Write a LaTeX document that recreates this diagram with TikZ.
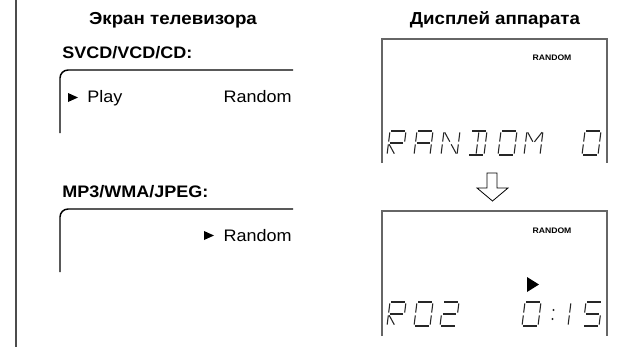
\documentclass[tikz,border=0pt]{standalone}
\usepackage{fontspec}
\setmainfont{Liberation Sans}[FakeStretch=1.08]
\usetikzlibrary{positioning}

% segments of one LCD cell, as u1/v1/u2/v2 (v runs downwards)
\newcommand{\glyphR}{0/0/1/0,1/0/1/.5,0/0/0/.5,0/.5/1/.5,0/.5/0/1,0/.5/.5/1}
\newcommand{\glyphA}{0/0/1/0,1/0/1/.5,1/.5/1/1,0/0/0/.5,0/.5/0/1,0/.5/1/.5}
\newcommand{\glyphN}{0/0/0/.5,0/.5/0/1,1/0/1/.5,1/.5/1/1,0/0/.5/.5,.5/.5/1/1}
\newcommand{\glyphD}{0/0/1/0,1/0/1/.5,1/.5/1/1,0/1/1/1,.5/0/.5/.5,.5/.5/.5/1}
\newcommand{\glyphO}{0/0/1/0,1/0/1/.5,1/.5/1/1,0/1/1/1,0/0/0/.5,0/.5/0/1}
\newcommand{\glyphM}{0/0/0/.5,0/.5/0/1,1/0/1/.5,1/.5/1/1,0/0/.5/.5,1/0/.5/.5}
\newcommand{\glyphTwo}{0/0/1/0,1/0/1/.5,0/.5/1/.5,0/.5/0/1,0/1/1/1}
\newcommand{\glyphOne}{1/0/1/.5,1/.5/1/1}
\newcommand{\glyphFive}{0/0/1/0,0/0/0/.5,0/.5/1/.5,1/.5/1/1,0/1/1/1}

\newcommand{\lcdchar}[3]{%
  \foreach \ua/\va/\ub/\vb in #3
    \draw[lcdseg] ({#1+\ua*16+(1-\va)*3},{#2+\va*24})
               -- ({#1+\ub*16+(1-\vb)*3},{#2+\vb*24});}

\begin{document}
\begin{tikzpicture}[x=0.75pt,y=-0.75pt,
   title/.style={font=\bfseries\fontsize{13}{15}\selectfont,anchor=base,inner sep=0pt},
   head/.style={font=\bfseries\fontsize{12.5}{15}\selectfont,anchor=base west,inner sep=0pt},
   menu/.style={font=\fontsize{12.5}{15}\selectfont,inner sep=0pt},
   tvframe/.style={line width=1.1pt,rounded corners=6pt},
   lcd/.style={draw=black!60,line width=1.3pt},
   lcdtag/.style={font=\bfseries\fontsize{6}{7}\selectfont,anchor=base,inner sep=0pt},
   lcdseg/.style={line width=0.8pt,black!85,shorten <=1.1pt,shorten >=1.1pt},
   tri/.style={fill=black}]
  \useasboundingbox (0,0) rectangle (640,347);
  \draw[black!70,line width=1.4pt] (16,0) -- (16,347);

  \node[title] (tvtitle) at (173,24) {Экран телевизора};
  \node[title] (dsptitle) at (495,24) {Дисплей аппарата};

  % TV screen
  \node[head] (svcd) at (62,58) {SVCD/VCD/CD:};
  \draw[tvframe] (293,70) -- (60,70) -- (60,133);
  \fill[tri] (68,93) -- (78,97.5) -- (68,102) -- cycle;
  \node[menu,anchor=base west] (play) at (87,102) {Play};
  \node[menu,anchor=base east] (rnd1) at (292,102) {Random};

  \node[head] (mp3) at (62,197) {MP3/WMA/JPEG:};
  \draw[tvframe] (293,209) -- (60,209) -- (60,272);
  \fill[tri] (204,231) -- (214,235.5) -- (204,240) -- cycle;
  \node[menu,anchor=base east] (rnd2) at (292,241) {Random};

  % unit display
  \draw[lcd] (382,163) -- (382,39) -- (607,39) -- (607,163);
  \node[lcdtag] (tag1) at (552,60) {RANDOM};
  \lcdchar{387}{131}{\glyphR}
  \lcdchar{414}{131}{\glyphA}
  \lcdchar{441}{131}{\glyphN}
  \lcdchar{468}{131}{\glyphD}
  \lcdchar{498}{131}{\glyphO}
  \lcdchar{524}{131}{\glyphM}
  \lcdchar{582}{131}{\glyphO}

  \draw[line width=0.6pt,fill=white] (487,173) -- (497,173) -- (497,188) -- (508,188)
       -- (492.5,201) -- (477,188) -- (487,188) -- cycle;

  \draw[lcd] (382,336) -- (382,211) -- (607,211) -- (607,336);
  \node[lcdtag] (tag2) at (552,233) {RANDOM};
  \fill[tri] (527,277) -- (539,284.5) -- (527,292) -- cycle;
  \lcdchar{387}{302}{\glyphR}
  \lcdchar{414}{302}{\glyphO}
  \lcdchar{440}{302}{\glyphTwo}
  \lcdchar{522}{302}{\glyphO}
  \fill[black!85] (553.5,310) circle (1.1) (552.5,319) circle (1.1);
  \lcdchar{552}{302}{\glyphOne}
  \lcdchar{583}{302}{\glyphFive}
\end{tikzpicture}
\end{document}
